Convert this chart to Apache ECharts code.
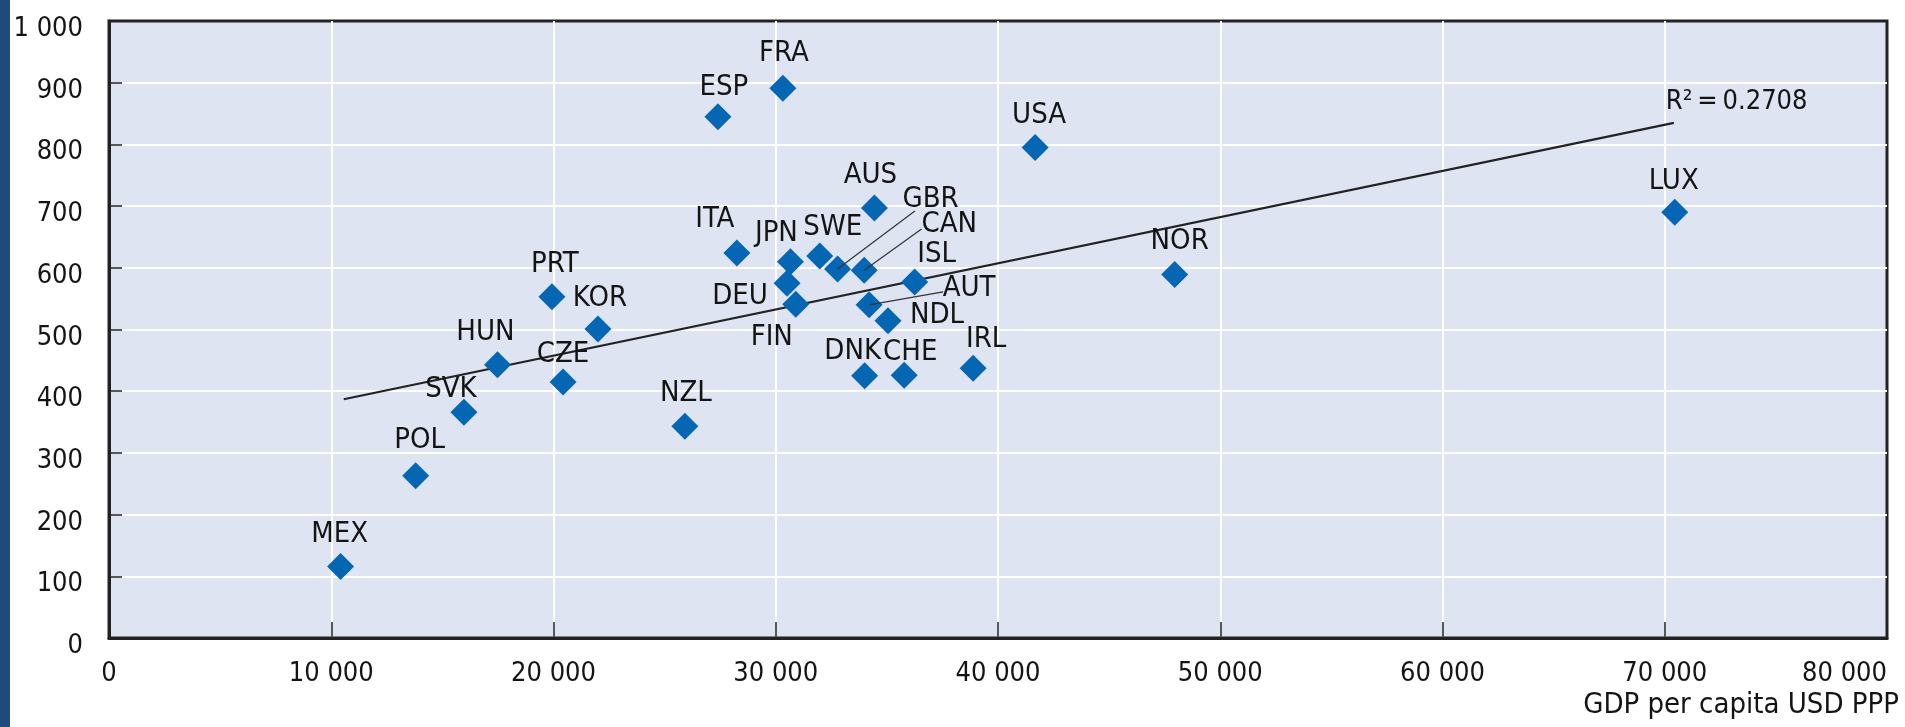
<!DOCTYPE html>
<html>
<head>
<meta charset="utf-8">
<title>GDP per capita scatter</title>
<script src="https://cdn.jsdelivr.net/npm/echarts@6/dist/echarts.min.js"></script>
<style>
    html, body { margin: 0; padding: 0; background: #ffffff; }
    #chart { width: 1905px; height: 727px; }
</style>
</head>
<body>
<div id="chart"></div>
<script>
// data
var countries = ["MEX", "POL", "SVK", "HUN", "CZE", "PRT", "KOR", "NZL", "ESP", "FRA", "ITA", "JPN", "DEU", "FIN",
    "SWE", "GBR", "CAN", "AUS", "ISL", "AUT", "NDL", "DNK", "CHE", "IRL", "USA", "NOR", "LUX"];
var gdpPerCapita = [10420, 13800, 15970, 17480, 20430, 19930, 22000, 25910, 27400, 30320, 28250, 30660, 30510, 30900,
    31980, 32780, 33980, 34440, 36250, 34200, 35050, 34000, 35780, 38880, 41670, 47950, 70450];
var yValues = [116, 263, 366, 443, 415, 553, 501, 343, 845, 891, 624, 610, 575, 541,
    619, 598, 596, 697, 577, 540, 514, 425, 426, 437, 795, 589, 690];

var trendLine = [[10560, 387], [70410, 835]];
var trendLabel = "R\u00B2\u2009=\u20090.2708";

var xTickLabels = ["0", "10 000", "20 000", "30 000", "40 000", "50 000", "60 000", "70 000", "80 000"];
var yTickLabels = ["0", "100", "200", "300", "400", "500", "600", "700", "800", "900", "1 000"];
var xAxisTitle = "GDP per capita USD PPP";

// leader lines: country -> where the line ends
var leaderEnds = {
    GBR: [36260, 692],
    CAN: [36560, 663],
    AUT: [37530, 561]
};

// label offsets from marker centre, in px
var labelOffsets = {
    MEX: [-1, -32], POL: [4, -35], SVK: [-13, -23], HUN: [-12, -32], CZE: [0, -27], PRT: [3, -32],
    KOR: [2, -30], NZL: [1, -33], ESP: [6, -29], FRA: [1, -35], ITA: [-22, -34], JPN: [-14, -28],
    DEU: [-47, 13], FIN: [-24, 33], SWE: [13, -29], GBR: [93, -70], CAN: [85, -46], AUS: [-4, -32],
    ISL: [22, -28], AUT: [100, -16], NDL: [49, -5], DNK: [-12, -24], CHE: [6, -23], IRL: [13, -29],
    USA: [4, -32], NOR: [5, -33], LUX: [-1, -31]
};

var FONT = "'DejaVu Sans Condensed', 'DejaVu Sans', sans-serif";
var TEXT = "#141414";
var DARK = "#222222";

var points = countries.map(function(c, i) {
    return {
        name: c,
        value: [gdpPerCapita[i], yValues[i]],
        label: { offset: labelOffsets[c] || [0, -30] }
    };
});

var leaders = Object.keys(leaderEnds).map(function(c) {
    var i = countries.indexOf(c);
    return { coords: [[gdpPerCapita[i], yValues[i]], leaderEnds[c]] };
});

// second copy of each axis, only to draw the inside ticks above the white grid lines
function tickAxis(base, len) {
    return Object.assign({}, base, {
        axisLine: { show: false },
        axisLabel: { show: false },
        splitLine: { show: false },
        axisTick: { show: true, inside: true, length: len, lineStyle: { color: DARK, width: 1.5 } },
        z: 10
    });
}

var xBase = { type: "value", min: 0, max: 80000, interval: 10000, position: "bottom", offset: 0 };
var yBase = { type: "value", min: 0, max: 1000, interval: 100, position: "left", offset: 0 };

var chart = echarts.init(document.getElementById("chart"));
var option = {
    backgroundColor: "#ffffff",
    animation: false,
    grid: {
        left: 109, right: 18, top: 21, bottom: 89,
        show: true,
        backgroundColor: "#dfe4f2",
        borderColor: DARK,
        borderWidth: 3,
        outerBoundsMode: "none"
    },
    graphic: [{
        type: "rect",
        left: 0, top: 0,
        shape: { width: 10, height: 727 },
        style: { fill: "#1f4a7e" }
    }, {
        type: "text",
        right: 6, top: 691,
        style: { text: xAxisTitle, font: "29px " + FONT, fill: TEXT }
    }],
    xAxis: [Object.assign({}, xBase, {
        axisLine: { show: true, onZero: false, lineStyle: { color: DARK, width: 3 } },
        axisTick: { show: false },
        splitLine: { show: true, showMinLine: false, showMaxLine: false, lineStyle: { color: "#ffffff", width: 2 } },
        axisLabel: {
            margin: 22,
            alignMaxLabel: "right",
            fontFamily: FONT, fontSize: 27, color: TEXT,
            formatter: function(v) {
                return xTickLabels[Math.round(v / 10000)];
            }
        }
    }), tickAxis(xBase, 16)],
    yAxis: [Object.assign({}, yBase, {
        axisLine: { show: true, onZero: false, lineStyle: { color: DARK, width: 3 } },
        axisTick: { show: false },
        splitLine: { show: true, showMinLine: false, showMaxLine: false, lineStyle: { color: "#ffffff", width: 2 } },
        axisLabel: {
            margin: 26,
            fontFamily: FONT, fontSize: 27, color: TEXT,
            formatter: function(v) {
                return "{t|" + yTickLabels[Math.round(v / 100)] + "}";
            },
            rich: {
                t: { fontFamily: FONT, fontSize: 27, color: TEXT, padding: [16, 0, 0, 0] }
            }
        }
    }), tickAxis(yBase, 13)],
    series: [{
        type: "line",
        data: trendLine,
        showSymbol: false,
        symbol: "none",
        lineStyle: { color: DARK, width: 2.2 },
        z: 2,
        endLabel: {
            show: true,
            formatter: trendLabel,
            offset: [-16, -21],
            fontFamily: FONT, fontSize: 27, color: TEXT
        }
    }, {
        type: "scatter",
        data: points,
        symbol: "diamond",
        symbolSize: 27,
        itemStyle: { color: "#0567b3", opacity: 1 },
        z: 3,
        label: {
            show: true,
            position: "inside",
            formatter: "{b}",
            fontFamily: FONT, fontSize: 29, color: TEXT
        }
    }, {
        type: "lines",
        coordinateSystem: "cartesian2d",
        data: leaders,
        lineStyle: { color: "#333333", width: 1.2, opacity: 1 },
        z: 4
    }]
};
chart.setOption(option);
</script>
</body>
</html>
